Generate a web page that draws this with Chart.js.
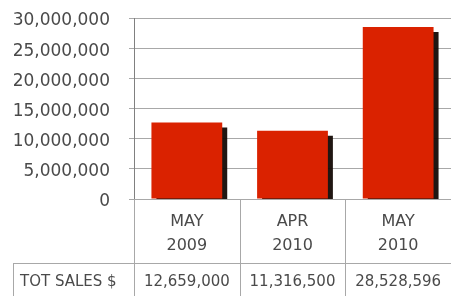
<!DOCTYPE html>
<html>
<head>
<meta charset="utf-8">
<script src="https://cdn.jsdelivr.net/npm/chart.js@4/dist/chart.umd.min.js"></script>
<style>
  html, body { margin: 0; padding: 0; background: #fff; }
  #wrap { width: 451px; height: 296px; }
</style>
</head>
<body>
<div id="wrap"><canvas id="sales-chart" width="451" height="296"></canvas></div>
<script>
// chart data
const periods = [['MAY', '2009'], ['APR', '2010'], ['MAY', '2010']];
const totSales = [12659000, 11316500, 28528596];
const rowLabel = 'TOT SALES $';
const yTicks = [0, 5000000, 10000000, 15000000, 20000000, 25000000, 30000000];

const FONT = '"DejaVu Sans", sans-serif';
const TEXT = '#4a4a4a';

// dark drop shadow on the right side of each bar
const barShadow = {
  id: 'barShadow',
  beforeDatasetsDraw(chart) {
    const ctx = chart.ctx;
    ctx.save();
    ctx.shadowColor = 'rgba(20,10,5,0.95)';
    ctx.shadowOffsetX = 5;
    ctx.shadowOffsetY = 5;
    ctx.shadowBlur = 0;
  },
  afterDatasetsDraw(chart) {
    chart.ctx.restore();
  }
};

// data table under the plot
const dataTable = {
  id: 'dataTable',
  afterDraw(chart) {
    const ctx = chart.ctx;
    const area = chart.chartArea;
    const xs = chart.scales.x;
    const h = chart.height;
    const w = chart.width;
    const rowTop = area.bottom + 64;
    const half = (xs.getPixelForValue(1) - xs.getPixelForValue(0)) / 2;

    ctx.save();
    ctx.strokeStyle = '#a8a8a8';
    ctx.lineWidth = 1;
    ctx.beginPath();
    // column separators
    for (let i = 0; i <= totSales.length; i++) {
      const x = Math.round(xs.getPixelForValue(0) - half + i * half * 2) + 0.5;
      ctx.moveTo(x, area.bottom);
      ctx.lineTo(x, h);
    }
    // row box
    ctx.moveTo(13, rowTop + 0.5);
    ctx.lineTo(w, rowTop + 0.5);
    ctx.moveTo(13.5, rowTop);
    ctx.lineTo(13.5, h);
    ctx.stroke();

    ctx.fillStyle = TEXT;
    ctx.font = '15px ' + FONT;
    ctx.textBaseline = 'middle';
    ctx.textAlign = 'left';
    ctx.fillText(rowLabel, 20, rowTop + 19);
    ctx.textAlign = 'center';
    totSales.forEach((v, i) => {
      ctx.fillText(v.toLocaleString('en-US'), xs.getPixelForValue(i), rowTop + 19);
    });
    ctx.restore();
  }
};

new Chart(document.getElementById('sales-chart'), {
  type: 'bar',
  data: {
    labels: periods,
    datasets: [{
      data: totSales,
      backgroundColor: '#da2200',
      borderWidth: 0,
      inflateAmount: 0,
      barPercentage: 0.67,
      categoryPercentage: 1
    }]
  },
  options: {
    responsive: false,
    animation: false,
    layout: { padding: { top: 18, left: 0, right: 0, bottom: 0 } },
    plugins: {
      legend: { display: false },
      tooltip: { enabled: false }
    },
    scales: {
      x: {
        grid: { display: false, drawTicks: false },
        border: { display: false },
        ticks: {
          color: TEXT,
          font: { family: FONT, size: 16, lineHeight: 1.55 },
          padding: 10,
          maxRotation: 0
        },
        afterFit(scale) { scale.height = 97; }
      },
      y: {
        min: 0,
        max: 30000000,
        afterBuildTicks(scale) {
          scale.ticks = yTicks.map(v => ({ value: v }));
        },
        grid: { color: '#a8a8a8', tickLength: 5 },
        border: { display: true, color: '#808080' },
        ticks: {
          color: TEXT,
          font: { family: FONT, size: 17 },
          padding: 19,
          labelOffset: 3,
          callback: v => v.toLocaleString('en-US')
        },
        afterFit(scale) {
          scale.width = 134;
          scale.paddingTop = 0;
          scale.paddingBottom = 0;
        }
      }
    }
  },
  plugins: [barShadow, dataTable]
});
</script>
</body>
</html>
